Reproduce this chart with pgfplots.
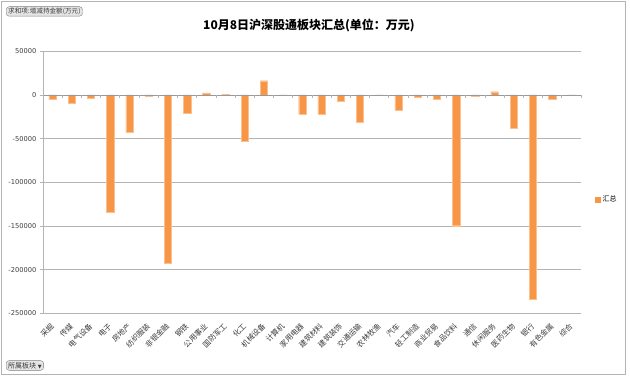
\documentclass[border=0pt]{standalone}
\usepackage{fontspec}
\setmainfont{DejaVu Sans}
\newfontfamily\cjk{Noto Sans CJK SC}
\newfontfamily\symfont{DejaVu Sans}
\usepackage{pgfplots}
\usepackage{pgfplotstable}
\pgfplotsset{compat=1.18}
\definecolor{barorange}{RGB}{247,150,70}
\definecolor{baredge}{RGB}{250,192,144}
\definecolor{gridgray}{RGB}{180,180,180}
\definecolor{txtgray}{RGB}{60,60,60}

\pgfplotstableread{
x y
0 -5300
1 -9500
2 -3600
3 -134000
4 -43200
5 -1200
6 -192800
7 -20900
8 2300
9 1000
10 -53000
11 16300
12 -300
13 -22000
14 -22000
15 -7300
16 -30700
17 -200
18 -17800
19 -2300
20 -4500
21 -149700
22 -1000
23 3700
24 -38300
25 -233400
26 -4500
27 -200
}\datatable

\begin{document}
\begin{tikzpicture}
\useasboundingbox (0pt,0pt) rectangle (630pt,376pt);
\draw[gridgray, line width=0.8pt] (1pt,1.5pt) rectangle (625pt,375pt);
\node[font=\cjk\bfseries\fontsize{12}{14}\selectfont, text=black] at (309pt,351pt) {10月8日沪深股通板块汇总(单位：万元)};
\node[draw=gray, fill=gray!20, rounded corners=3pt, inner xsep=2pt, inner ysep=1.3pt, font=\cjk\fontsize{6.6}{7}\selectfont, text=txtgray, anchor=north west] at (6pt,369.5pt) {求和项:增减持金额(万元)};
\node[draw=gray, fill=gray!20, rounded corners=3pt, inner xsep=2pt, inner ysep=1.6pt, font=\cjk\fontsize{7}{8}\selectfont, text=txtgray, anchor=south west] at (6pt,5.5pt) {所属板块 {\symfont\fontsize{5}{6}\selectfont ▼}};
\begin{axis}[
  at={(43pt,62.7pt)}, anchor=south west,
  scale only axis, width=538pt, height=262pt,
  xmin=-0.5, xmax=27.5, ymin=-250000, ymax=50000,
  axis line style={draw=none},
  scaled y ticks=false,
  ytick={-250000,-200000,-150000,-100000,-50000,0,50000},
  yticklabels={-250000,-200000,-150000,-100000,-50000,0,50000},
  ymajorgrids, grid style={gridgray, line width=0.8pt},
  ytick pos=left, tick align=outside, major tick length=3pt,
  ytick style={gridgray, line width=0.8pt},
  yticklabel style={font=\fontsize{6.7}{8}\selectfont, text=txtgray},
  xtick={0,...,27},
  xticklabels={采掘,传媒,电气设备,电子,房地产,纺织服装,非银金融,钢铁,公用事业,国防军工,化工,机械设备,计算机,家用电器,建筑材料,建筑装饰,交通运输,农林牧渔,汽车,轻工制造,商业贸易,食品饮料,通信,休闲服务,医药生物,银行,有色金属,综合},
  xtick style={draw=none},
  xticklabel style={font=\cjk\fontsize{7.5}{8}\selectfont, text=txtgray, inner sep=0pt, xshift=0pt, yshift=-8.5pt, rotate=45, anchor=east},
  legend style={draw=none, fill=none, font=\cjk\fontsize{7}{8}\selectfont, at={(1.02,0.435)}, anchor=west},
  clip=false,
]
\addplot[ybar, bar width=7.3pt, fill=barorange, draw=baredge, line width=0.4pt,
  legend image code/.code={\fill[barorange] (0pt,-2.6pt) rectangle (5.2pt,2.6pt);}]
  table[x=x,y=y] {\datatable};
\addlegendentry{汇总}
\draw[gridgray, line width=0.8pt] (axis cs:-0.5,-250000) -- (axis cs:-0.5,50000);
\draw[gray!80, line width=0.8pt] (axis cs:-0.5,0) -- (axis cs:27.5,0);
\pgfplotsinvokeforeach{-0.5,0.5,...,27.5}{\draw[gridgray, line width=0.8pt] (axis cs:#1,0) -- ++(0pt,-3pt);}
\end{axis}
\end{tikzpicture}
\end{document}
